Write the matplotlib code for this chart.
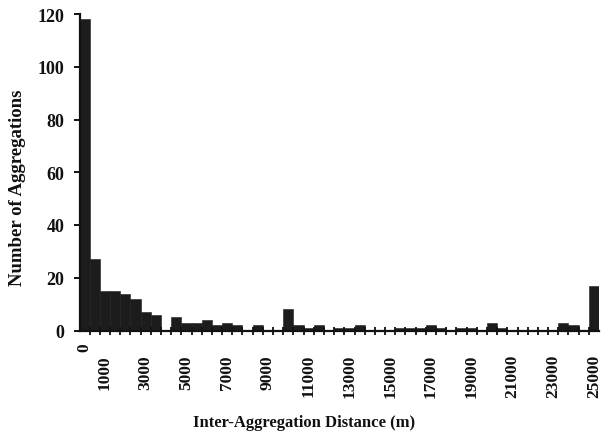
"""Histogram of inter-aggregation distances (500 m bins)."""

import matplotlib

matplotlib.use("Agg")
import matplotlib.pyplot as plt
import numpy as np

# bin starts in metres, 500 m wide
bins = list(range(0, 25001, 500))
counts = [118, 27, 15, 15, 14, 12, 7, 6, 0, 5,
          3, 3, 4, 2, 3, 2, 0, 2, 0, 0,
          8, 2, 1, 2, 0, 1, 1, 2, 0, 0,
          0, 1, 1, 1, 2, 1, 0, 1, 1, 0,
          3, 1, 0, 0, 0, 0, 0, 3, 2, 0,
          17]
shown_labels = ["1000", "3000", "5000", "7000", "9000", "11000", "13000",
                "15000", "17000", "19000", "21000", "23000", "25000"]
y_ticks = [0, 20, 40, 60, 80, 100, 120]

FONT = "Liberation Serif"
INK = "#1c1c1c"

W, H = 603, 439
fig = plt.figure(figsize=(W / 100, H / 100), dpi=100)
left, right, top, bottom = 79.5, 599, 15, 331.5
ax = fig.add_axes([left / W, 1 - bottom / H, (right - left) / W, (bottom - top) / H])

idx = np.arange(len(bins))
ax.bar(idx, counts, width=1.0, color=INK, edgecolor=INK, linewidth=0.4)

ax.set_xlim(-0.5, len(bins) - 0.5)
ax.set_ylim(0, 120)

for side in ("top", "right"):
    ax.spines[side].set_visible(False)
for side in ("left", "bottom"):
    ax.spines[side].set_linewidth(1.6)
    ax.spines[side].set_color("#111111")

# y axis
ax.set_yticks(y_ticks)
ax.set_yticklabels([str(v) for v in y_ticks], fontfamily=FONT,
                   fontweight="bold", fontsize=13)
ax.tick_params(axis="y", direction="out", length=4, width=1.4, pad=7,
               colors="#111111")

# x axis: labels under bin centres, small ticks at bin boundaries
lab_pos = [bins.index(int(s)) for s in shown_labels]
ax.set_xticks(lab_pos)
ax.set_xticklabels(shown_labels, rotation=90, fontfamily=FONT,
                   fontweight="bold", fontsize=12.5)
ax.tick_params(axis="x", which="major", length=0, pad=17, colors="#111111")
ax.set_xticks(idx[:-1] + 0.5, minor=True)
ax.tick_params(axis="x", which="minor", direction="inout", length=6,
               width=1.3, colors="#111111")

ax.annotate("0", xy=(0, 0), xycoords=("data", "axes fraction"),
            xytext=(0, -8.5), textcoords="offset points", rotation=90,
            ha="center", va="top", fontfamily=FONT, fontweight="bold",
            fontsize=12.5, color="#111111")

fig.text(18 / W, 1 - 188 / H, "Number of Aggregations", rotation=90,
         ha="center", va="center", fontfamily=FONT, fontweight="bold",
         fontsize=13.5, color="#111111")
fig.text(304 / W, 1 - 423 / H, "Inter-Aggregation Distance (m)",
         ha="center", va="center", fontfamily=FONT, fontweight="bold",
         fontsize=12, color="#111111")

fig.savefig("out.png", dpi=100)
